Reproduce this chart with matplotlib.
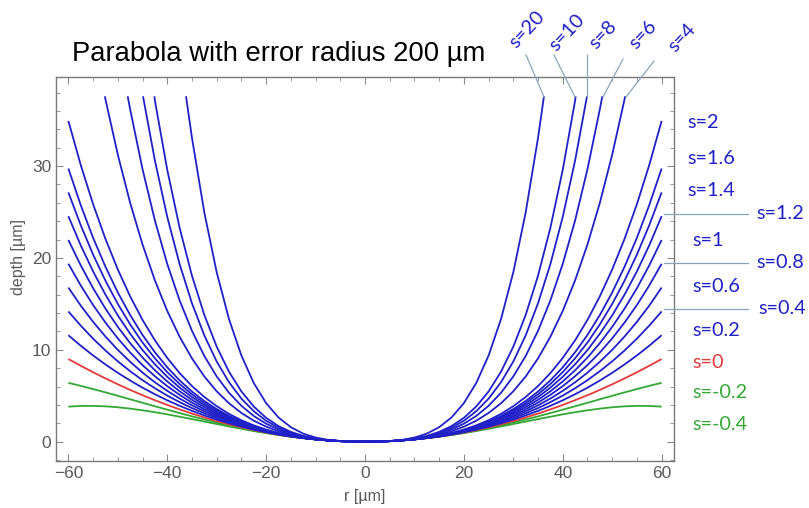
import numpy as np
import matplotlib
matplotlib.use('Agg')
from matplotlib import pyplot as plt
from matplotlib.lines import Line2D
from matplotlib.ticker import MultipleLocator

W, H = 809, 508

# half profiles (r >= 0), the curves are symmetric in r
r_half = [0, 2.5, 5, 7.5, 10, 12.5, 15, 17.5, 20, 22.5, 25, 27.5, 30, 32.5, 35,
          37.5, 40, 42.5, 45, 47.5, 50, 52.5, 55, 57.5, 60]

depth_m04 = [0, 0.02, 0.06, 0.14, 0.25, 0.38, 0.54, 0.73, 0.94, 1.16, 1.41, 1.66,
             1.93, 2.19, 2.46, 2.72, 2.98, 3.21, 3.42, 3.60, 3.75, 3.85, 3.90, 3.89, 3.82]
depth_m02 = [0, 0.02, 0.06, 0.14, 0.25, 0.39, 0.55, 0.75, 0.97, 1.21, 1.48, 1.78,
             2.09, 2.42, 2.76, 3.12, 3.49, 3.86, 4.24, 4.62, 5.00, 5.37, 5.73, 6.08, 6.41]
depth_0 = [0, 0.02, 0.06, 0.14, 0.25, 0.39, 0.56, 0.77, 1.00, 1.27, 1.56, 1.89,
           2.25, 2.64, 3.06, 3.52, 4.00, 4.52, 5.06, 5.64, 6.25, 6.89, 7.56, 8.27, 9.00]
depth_02 = [0, 0.02, 0.06, 0.14, 0.25, 0.40, 0.57, 0.78, 1.03, 1.32, 1.64, 2.01,
            2.41, 2.86, 3.36, 3.91, 4.51, 5.17, 5.88, 6.66, 7.50, 8.41, 9.39, 10.45, 11.59]
depth_04 = [0, 0.02, 0.06, 0.14, 0.25, 0.40, 0.58, 0.80, 1.06, 1.37, 1.72, 2.12,
            2.57, 3.09, 3.66, 4.31, 5.02, 5.82, 6.70, 7.68, 8.75, 9.93, 11.22, 12.64, 14.18]
depth_06 = [0, 0.02, 0.06, 0.14, 0.26, 0.41, 0.59, 0.82, 1.10, 1.42, 1.80, 2.23,
            2.74, 3.31, 3.96, 4.70, 5.54, 6.47, 7.52, 8.70, 10.00, 11.45, 13.05, 14.82, 16.78]
depth_08 = [0, 0.02, 0.06, 0.14, 0.26, 0.41, 0.60, 0.84, 1.13, 1.47, 1.88, 2.35,
            2.90, 3.53, 4.26, 5.10, 6.05, 7.13, 8.34, 9.71, 11.25, 12.97, 14.88, 17.01, 19.37]
depth_1 = [0, 0.02, 0.06, 0.14, 0.26, 0.42, 0.61, 0.86, 1.16, 1.52, 1.95, 2.46,
           3.06, 3.76, 4.56, 5.49, 6.56, 7.78, 9.16, 10.73, 12.50, 14.49, 16.71, 19.20, 21.96]
depth_12 = [0, 0.02, 0.06, 0.14, 0.26, 0.42, 0.62, 0.88, 1.19, 1.57, 2.03, 2.58,
            3.22, 3.98, 4.86, 5.89, 7.07, 8.43, 9.98, 11.75, 13.75, 16.01, 18.54, 21.38, 24.55]
depth_14 = [0, 0.02, 0.06, 0.15, 0.26, 0.42, 0.63, 0.90, 1.22, 1.62, 2.11, 2.69,
            3.38, 4.20, 5.16, 6.28, 7.58, 9.08, 10.80, 12.77, 15.00, 17.53, 20.37, 23.57, 27.14]
depth_16 = [0, 0.02, 0.06, 0.15, 0.27, 0.43, 0.64, 0.92, 1.26, 1.68, 2.19, 2.81,
            3.55, 4.43, 5.46, 6.68, 8.10, 9.74, 11.62, 13.79, 16.25, 19.05, 22.20, 25.76, 29.74]
depth_2 = [0, 0.02, 0.06, 0.15, 0.27, 0.44, 0.66, 0.95, 1.32, 1.78, 2.34, 3.03,
           3.87, 4.87, 6.06, 7.47, 9.12, 11.04, 13.26, 15.82, 18.75, 22.08, 25.86, 30.13, 34.92]

# steep curves leave the plot range at the top
r_4 = r_half[:22] + [52.6]
depth_4 = [0, 0.02, 0.07, 0.15, 0.29, 0.49, 0.77, 1.14, 1.64, 2.29, 3.13, 4.18,
           5.49, 7.10, 9.07, 11.43, 14.24, 17.57, 21.47, 26.00, 31.25, 37.28, 37.6]
r_6 = r_half[:20] + [48.0]
depth_6 = [0, 0.02, 0.07, 0.16, 0.31, 0.54, 0.87, 1.33, 1.96, 2.80, 3.91, 5.32,
           7.11, 9.33, 12.07, 15.38, 19.36, 24.09, 29.67, 36.18, 37.6]
r_8 = r_half[:18] + [44.9]
depth_8 = [0, 0.02, 0.07, 0.17, 0.33, 0.59, 0.97, 1.52, 2.28, 3.32, 4.69, 6.47,
           8.73, 11.57, 15.07, 19.34, 24.48, 30.62, 37.6]
r_10 = r_half[:18] + [42.6]
depth_10 = [0, 0.02, 0.07, 0.17, 0.35, 0.63, 1.07, 1.70, 2.60, 3.83, 5.47, 7.61,
            10.35, 13.80, 18.07, 23.29, 29.60, 37.14, 37.6]
r_20 = r_half[:15] + [36.2]
depth_20 = [0, 0.02, 0.08, 0.20, 0.45, 0.88, 1.58, 2.64, 4.20, 6.39, 9.38, 13.33,
            18.45, 24.95, 33.08, 37.6]

blue = '#2020c8'
red = '#e23b3b'
green = '#34a834'

curves = [
    (r_half, depth_m04, green), (r_half, depth_m02, green), (r_half, depth_0, red),
    (r_half, depth_02, blue), (r_half, depth_04, blue), (r_half, depth_06, blue),
    (r_half, depth_08, blue), (r_half, depth_1, blue), (r_half, depth_12, blue),
    (r_half, depth_14, blue), (r_half, depth_16, blue), (r_half, depth_2, blue),
    (r_4, depth_4, blue), (r_6, depth_6, blue), (r_8, depth_8, blue),
    (r_10, depth_10, blue), (r_20, depth_20, blue),
]


def mirror(r, d):
    r = np.asarray(r, float)
    d = np.asarray(d, float)
    return np.concatenate([-r[::-1], r[1:]]), np.concatenate([d[::-1], d[1:]])


fig = plt.figure(figsize=(W / 100, H / 100), dpi=100)
ax = fig.add_axes([56 / W, 1 - 461 / H, (674 - 56) / W, (461 - 77) / H])

for r, d, c in curves:
    rr, dd = mirror(r, d)
    ax.plot(rr, dd, color=c, lw=1.3, solid_capstyle='butt')

ax.set_xlim(-62.5, 62.5)
ax.set_ylim(-2.1, 39.7)

frame_col = '#7a7a7a'
for sp in ax.spines.values():
    sp.set_color(frame_col)
    sp.set_linewidth(1.0)
ax.xaxis.set_major_locator(MultipleLocator(20))
ax.xaxis.set_minor_locator(MultipleLocator(5))
ax.yaxis.set_major_locator(MultipleLocator(10))
ax.yaxis.set_minor_locator(MultipleLocator(2))
ax.tick_params(which='both', direction='in', top=True, right=True, color='#8a8a8a',
               labelcolor='#5a5a5a', labelsize=12.5)
ax.tick_params(which='major', length=5, width=0.8)
ax.tick_params(which='minor', length=3, width=0.6)
for lab in ax.get_xticklabels() + ax.get_yticklabels():
    lab.set_family('Liberation Sans')
ax.xaxis.set_major_formatter(plt.FuncFormatter(lambda v, p: f'{v:.0f}'.replace('-', '\u2212')))
ax.yaxis.set_major_formatter(plt.FuncFormatter(lambda v, p: f'{v:.0f}'))

ax.set_xlabel('r [µm]', color='#5a5a5a', fontsize=11.5, family='Liberation Sans')
ax.set_ylabel('depth [µm]', color='#5a5a5a', fontsize=11.5, family='Liberation Sans')
ax.xaxis.set_label_coords(0.5, -0.072)
ax.yaxis.set_label_coords(-0.048, 0.53)

fig.text(72 / W, 1 - 54 / H, 'Parabola with error radius 200 µm', fontsize=19.7,
         family='Liberation Sans', color='black', ha='left', va='center')

lab_font = 'Lato'
lead_col = '#8aa4bc'

# labels on the right
right_labels = [('s=2', 687, 123, blue), ('s=1.6', 687, 158, blue),
                ('s=1.4', 687, 191, blue), ('s=1.2', 756, 214, blue),
                ('s=1', 692, 240, blue), ('s=0.8', 756, 263, blue),
                ('s=0.6', 692, 287, blue), ('s=0.4', 758, 309, blue),
                ('s=0.2', 692, 330, blue), ('s=0', 692, 362, red),
                ('s=-0.2', 692, 393, green), ('s=-0.4', 692, 425, green)]
for txt, x, y, c in right_labels:
    fig.text(x / W, 1 - y / H, txt, color=c, fontsize=14.3, family=lab_font,
             ha='left', va='center')

for y in [214, 263, 309]:
    fig.add_artist(Line2D([664 / W, 748 / W], [1 - y / H, 1 - y / H],
                          color=lead_col, lw=0.9))

# rotated labels on top with leader lines
top_labels = [('s=20', 527, 29, (526, 55), (544, 97)),
              ('s=10', 567, 33, (554, 55), (575, 97)),
              ('s=8', 603, 35, (587, 55), (587, 97)),
              ('s=6', 643, 35, (623, 59), (603, 97)),
              ('s=4', 682, 38, (654, 61), (626, 97))]
for txt, x, y, p0, p1 in top_labels:
    fig.text(x / W, 1 - y / H, txt, color=blue, fontsize=14.3, family=lab_font,
             ha='center', va='center', rotation=47, rotation_mode='anchor')
    fig.add_artist(Line2D([p0[0] / W, p1[0] / W], [1 - p0[1] / H, 1 - p1[1] / H],
                          color=lead_col, lw=0.9))

fig.savefig('out.png', dpi=100)
